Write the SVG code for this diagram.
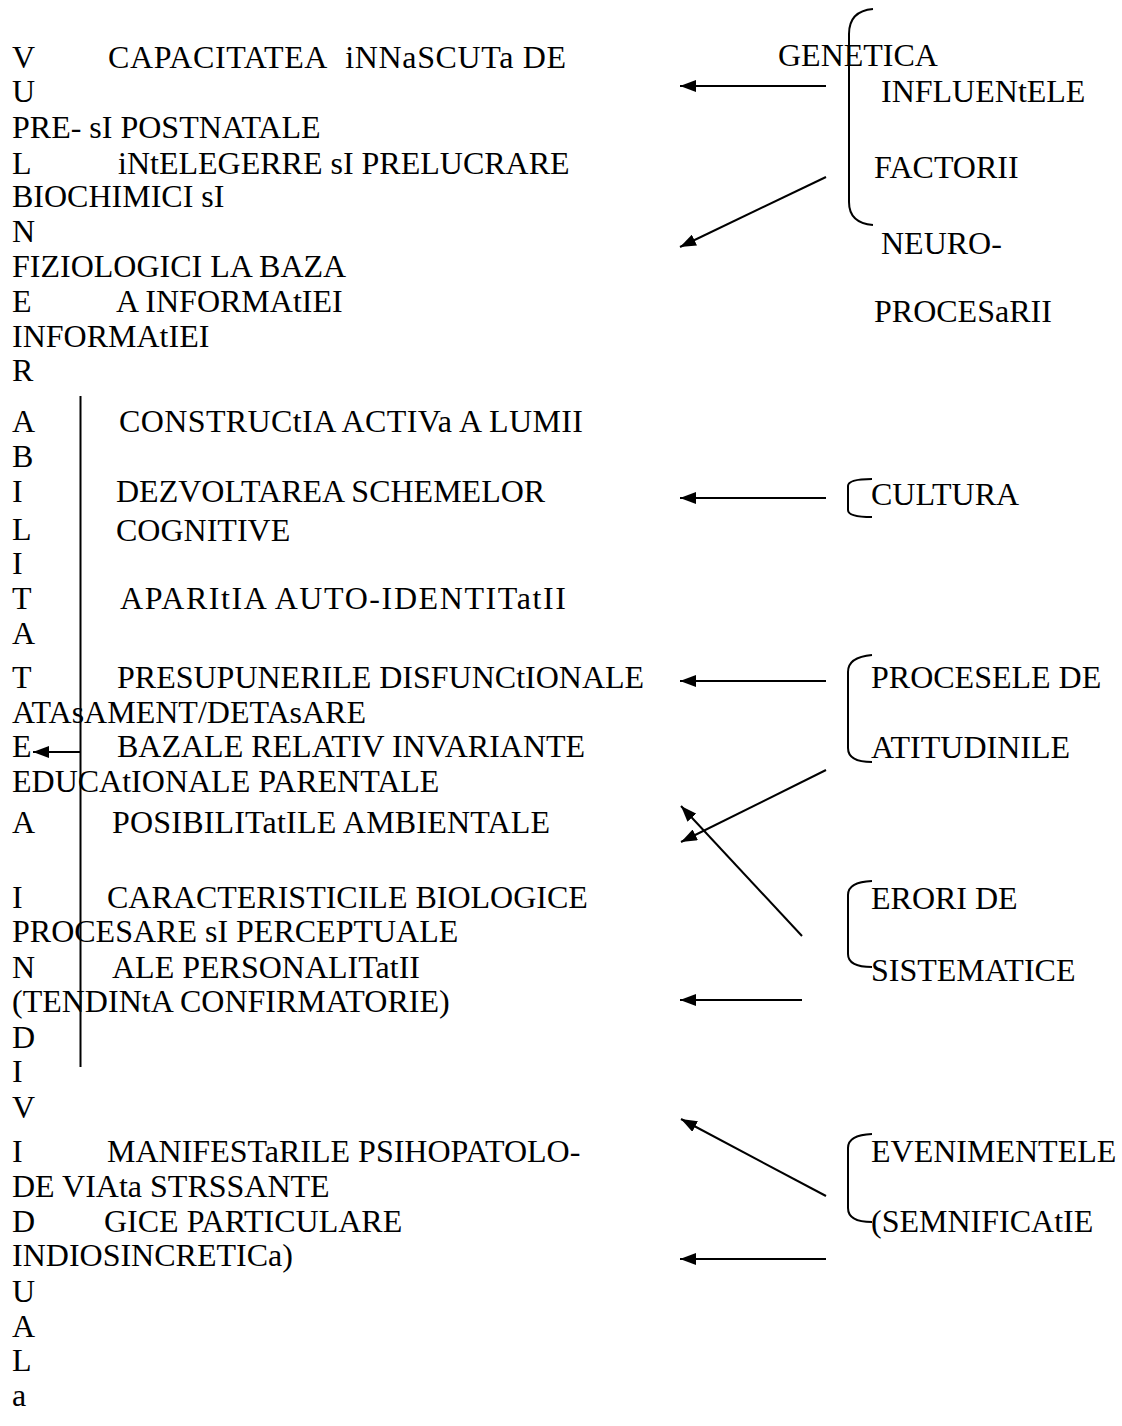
<svg xmlns="http://www.w3.org/2000/svg" width="1122" height="1426" viewBox="0 0 1122 1426">
  <style>
    text { font-family: "Liberation Serif", "Times New Roman", serif; font-size: 32px; fill: #000; }
    .ln { stroke: #000; stroke-width: 2; fill: none; }
    .br { stroke: #000; stroke-width: 2; fill: none; }
  </style>
  <defs>
    <marker id="ah" viewBox="0 0 16 12" refX="16" refY="6" markerWidth="16" markerHeight="12" markerUnits="userSpaceOnUse" orient="auto">
      <path d="M0,0 L16,6 L0,12 Z" fill="#000"/>
    </marker>
  </defs>

  <rect width="1122" height="1426" fill="#fff"/>

  <!-- vertical spine: VULNERABILITATEA INDIVIDUALa -->
  <g id="spine">
    <text x="12" y="68">V</text>
    <text x="12" y="102">U</text>
    <text x="12" y="174">L</text>
    <text x="12" y="242">N</text>
    <text x="12" y="312">E</text>
    <text x="12" y="381">R</text>
    <text x="12" y="432">A</text>
    <text x="12" y="467">B</text>
    <text x="12" y="502">I</text>
    <text x="12" y="540">L</text>
    <text x="12" y="574">I</text>
    <text x="12" y="609">T</text>
    <text x="12" y="644">A</text>
    <text x="12" y="688">T</text>
    <text x="12" y="757">E</text>
    <text x="12" y="833">A</text>
    <text x="12" y="908">I</text>
    <text x="12" y="978">N</text>
    <text x="12" y="1048">D</text>
    <text x="12" y="1082">I</text>
    <text x="12" y="1118">V</text>
    <text x="12" y="1162">I</text>
    <text x="12" y="1232">D</text>
    <text x="12" y="1302">U</text>
    <text x="12" y="1337">A</text>
    <text x="12" y="1371">L</text>
    <text x="12" y="1406">a</text>
  </g>

  <!-- flush-left continuation lines -->
  <g id="left-lines">
    <text x="12" y="138">PRE- sI POSTNATALE</text>
    <text x="12" y="207">BIOCHIMICI sI</text>
    <text x="12" y="277">FIZIOLOGICI LA BAZA</text>
    <text x="12" y="347">INFORMAtIEI</text>
    <text x="12" y="723">ATAsAMENT/DETAsARE</text>
    <text x="12" y="792">EDUCAtIONALE PARENTALE</text>
    <text x="12" y="942">PROCESARE sI PERCEPTUALE</text>
    <text x="12" y="1012">(TENDINtA CONFIRMATORIE)</text>
    <text x="12" y="1197">DE VIAta STRSSANTE</text>
    <text x="12" y="1266">INDIOSINCRETICa)</text>
  </g>

  <!-- central column -->
  <g id="center-items">
    <text x="108" y="68" textLength="458" lengthAdjust="spacing">CAPACITATEA&#160; iNNaSCUTa DE</text>
    <text x="118" y="174">iNtELEGERRE sI PRELUCRARE</text>
    <text x="116" y="312">A INFORMAtIEI</text>
    <text x="119" y="432" textLength="464" lengthAdjust="spacing">CONSTRUCtIA ACTIVa A LUMII</text>
    <text x="116" y="502">DEZVOLTAREA SCHEMELOR</text>
    <text x="116" y="541">COGNITIVE</text>
    <text x="120" y="609" textLength="446" lengthAdjust="spacing">APARItIA AUTO-IDENTITatII</text>
    <text x="117" y="688">PRESUPUNERILE DISFUNCtIONALE</text>
    <text x="117" y="757">BAZALE RELATIV INVARIANTE</text>
    <text x="112" y="833" textLength="438" lengthAdjust="spacing">POSIBILITatILE AMBIENTALE</text>
    <text x="107" y="908">CARACTERISTICILE BIOLOGICE</text>
    <text x="112" y="978">ALE PERSONALITatII</text>
    <text x="107" y="1162">MANIFESTaRILE PSIHOPATOLO-</text>
    <text x="104" y="1232">GICE PARTICULARE</text>
  </g>

  <!-- right-hand factor groups -->
  <g id="factors-neuro">
    <path class="br" d="M873,9 Q849,11 849,34 L849,202 Q849,223 873,225"/>
    <text x="778" y="66">GENETICA</text>
    <text x="881" y="102">INFLUENtELE</text>
    <text x="874" y="178">FACTORII</text>
    <text x="881" y="254">NEURO-</text>
    <text x="874" y="322">PROCESaRII</text>
  </g>
  <g id="factors-culture">
    <path class="br" d="M872,479 Q848,479 848,486 L848,510 Q848,517 872,517"/>
    <text x="871" y="505">CULTURA</text>
  </g>
  <g id="factors-attitudes">
    <path class="br" d="M872,655 Q848,657 848,672 L848,748 Q848,762 872,762"/>
    <text x="871" y="688">PROCESELE DE</text>
    <text x="871" y="758">ATITUDINILE</text>
  </g>
  <g id="factors-errors">
    <path class="br" d="M872,881 Q848,882 848,895 L848,954 Q848,967 872,967"/>
    <text x="871" y="909">ERORI DE</text>
    <text x="871" y="981">SISTEMATICE</text>
  </g>
  <g id="factors-events">
    <path class="br" d="M872,1134 Q848,1135 848,1148 L848,1208 Q848,1222 872,1222"/>
    <text x="871" y="1162">EVENIMENTELE</text>
    <text x="871" y="1232">(SEMNIFICAtIE</text>
  </g>

  <!-- connectors -->
  <g id="connectors">
    <line class="ln" x1="80.5" y1="396" x2="80.5" y2="1067"/>
    <line class="ln" x1="80.5" y1="752" x2="33" y2="752" marker-end="url(#ah)"/>
    <line class="ln" x1="826" y1="86" x2="680" y2="86" marker-end="url(#ah)"/>
    <line class="ln" x1="826" y1="177" x2="680" y2="247" marker-end="url(#ah)"/>
    <line class="ln" x1="826" y1="498" x2="680" y2="498" marker-end="url(#ah)"/>
    <line class="ln" x1="826" y1="681" x2="680" y2="681" marker-end="url(#ah)"/>
    <line class="ln" x1="826" y1="770" x2="681" y2="842" marker-end="url(#ah)"/>
    <line class="ln" x1="802" y1="936" x2="681" y2="806" marker-end="url(#ah)"/>
    <line class="ln" x1="802" y1="1000" x2="680" y2="1000" marker-end="url(#ah)"/>
    <line class="ln" x1="826" y1="1196" x2="681" y2="1119" marker-end="url(#ah)"/>
    <line class="ln" x1="826" y1="1259" x2="680" y2="1259" marker-end="url(#ah)"/>
  </g>
</svg>
